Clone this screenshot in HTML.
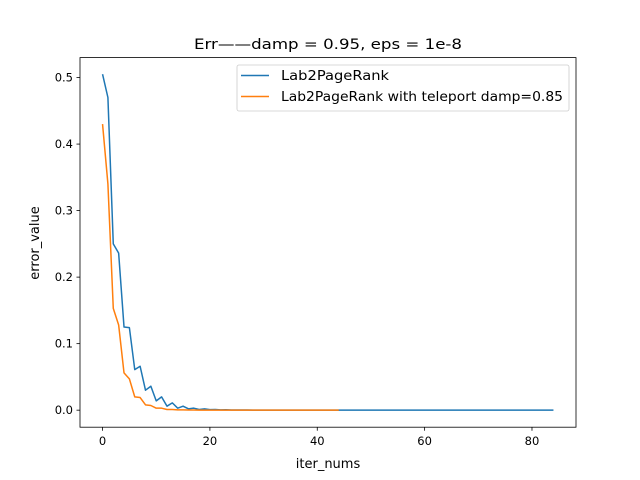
<!DOCTYPE html>
<html><head><meta charset="utf-8"><style>
html,body{margin:0;padding:0;background:#fff;}
svg{display:block;font-family:"DejaVu Sans","Liberation Sans",sans-serif;}
</style></head><body>
<svg id="chart" width="640" height="480" viewBox="0 0 640 480" xmlns="http://www.w3.org/2000/svg">
<rect width="640" height="480" fill="#fff"/>
<text x="328" y="49" font-size="14.4" text-anchor="middle" textLength="268" lengthAdjust="spacingAndGlyphs">Err——damp = 0.95, eps = 1e-8</text>
<g id="plot"></g>
<rect x="80" y="57.6" width="496" height="369.6" fill="none" stroke="#000" stroke-width="0.8"/>
<text x="328" y="468" font-size="13" text-anchor="middle">iter_nums</text>
<text transform="translate(39,243) rotate(-90)" font-size="13" text-anchor="middle">error_value</text>
<g>
<rect x="237" y="65" width="332" height="46" rx="2" fill="#fff" fill-opacity="0.8" stroke="#ccc" stroke-width="0.8"/>
<line x1="241" y1="75.5" x2="269" y2="75.5" stroke="#1f77b4" stroke-width="1.5"/>
<text x="281" y="80" font-size="13" textLength="108" lengthAdjust="spacingAndGlyphs">Lab2PageRank</text>
<line x1="241" y1="96.5" x2="269" y2="96.5" stroke="#ff7f0e" stroke-width="1.5"/>
<text x="281" y="101" font-size="13" textLength="282" lengthAdjust="spacingAndGlyphs">Lab2PageRank with teleport damp=0.85</text>
</g>
</svg>
<script>
const xTicks = [0, 20, 40, 60, 80];
const yTicks = [0.0, 0.1, 0.2, 0.3, 0.4, 0.5];
const yTickLabels = ["0.0", "0.1", "0.2", "0.3", "0.4", "0.5"];
const seriesBlue = [0.505,0.470,0.250,0.236,0.125,0.124,0.061,0.066,0.030,0.036,0.014,0.020,0.006,0.011,0.003,0.006,0.002,0.003,0.001,0.002,0.0008,0.001,0.0005,0.0006,0.0003,
0.0003,0.0002,0.0002,0.0001,0.0001,0.0001,0.0001,0,0,0,0,0,0,0,0,0,0,0,0,0,0,0,0,0,0,0,0,0,0,0,0,0,0,0,0,0,0,0,0,0,0,0,0,0,0,0,0,0,0,0,0,0,0,0,0,0,0,0,0,0];
const seriesOrange = [0.430,0.340,0.153,0.128,0.056,0.047,0.020,0.019,0.008,0.007,0.003,0.003,0.001,0.001,0.0005,0.0005,0.0002,0.0002,0.0001,0.0001,0,0,0,0,0,0,0,0,0,0,0,0,0,0,0,0,0,0,0,0,0,0,0,0,0];

const X0 = 80, X1 = 576, Y0 = 427.2, Y1 = 57.6;
const xMin = -4.2, xMax = 88.2, yMin = -0.0256, yMax = 0.530;
function xs(v){ return X0 + (v - xMin) / (xMax - xMin) * (X1 - X0); }
function ys(v){ return Y0 - (v - yMin) / (yMax - yMin) * (Y0 - Y1); }
const NS = "http://www.w3.org/2000/svg";
const g = document.getElementById('plot');
function mk(tag, attrs){ const e = document.createElementNS(NS, tag); for (const k in attrs) e.setAttribute(k, attrs[k]); return e; }

xTicks.forEach(t => {
  const x = xs(t);
  const l = mk('line', {x1:x, y1:Y0, x2:x, y2:Y0+3.5, stroke:'#000', 'stroke-width':0.8});
  
  
  g.appendChild(l);
  const tx = mk('text', {x:x, y:Y0+18, 'font-size':11.5, 'text-anchor':'middle'});
  
  
  tx.textContent = String(t);
  g.appendChild(tx);
});
yTicks.forEach((t, i) => {
  const y = ys(t);
  const l = mk('line', {x1:X0-3.5, y1:y, x2:X0, y2:y, stroke:'#000', 'stroke-width':0.8});
  
  
  g.appendChild(l);
  const tx = mk('text', {x:X0-7, y:y+4, 'font-size':11.5, 'text-anchor':'end'});
  
  
  tx.textContent = yTickLabels[i];
  g.appendChild(tx);
});
function line(data, color, name){
  const pts = data.map((v, i) => xs(i).toFixed(2) + ',' + ys(v).toFixed(2)).join(' ');
  const p = mk('polyline', {points:pts, fill:'none', stroke:color, 'stroke-width':1.5, 'stroke-linejoin':'round'});
  
  
  g.appendChild(p);
}
line(seriesBlue, '#1f77b4', 'series-lab2pagerank');
line(seriesOrange, '#ff7f0e', 'series-teleport');
</script>
</body></html>
